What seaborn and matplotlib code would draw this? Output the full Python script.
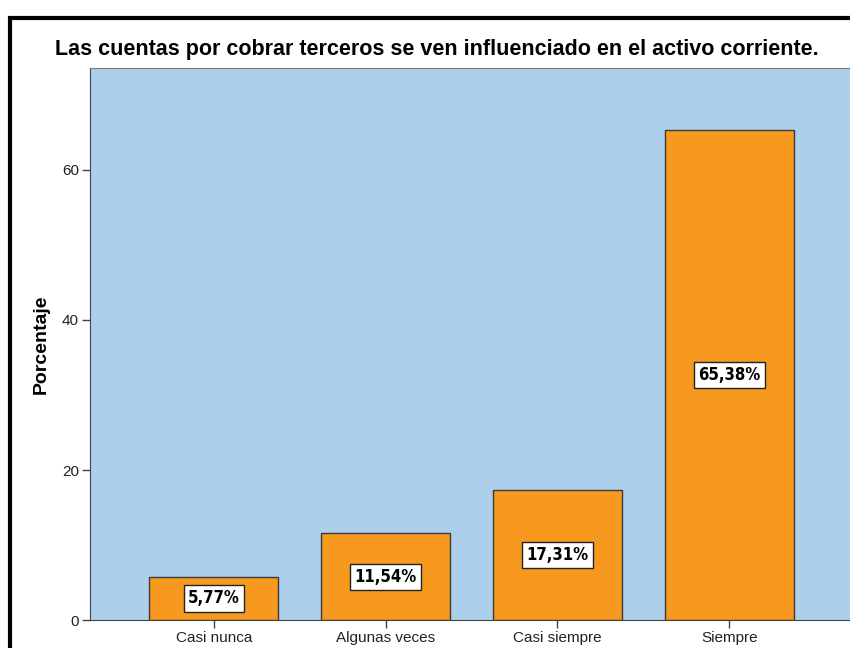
import matplotlib
matplotlib.use("Agg")
import matplotlib.pyplot as plt
import seaborn as sns
import pandas as pd
from matplotlib.patches import Rectangle

categories = ["Casi nunca", "Algunas veces", "Casi siempre", "Siempre"]
percentages = [5.77, 11.54, 17.31, 65.38]
label_texts = ["5,77%", "11,54%", "17,31%", "65,38%"]
yticks = [0, 20, 40, 60]

sns.set_theme(style="white")
plt.rcParams['font.family'] = ['Liberation Sans', 'DejaVu Sans']

df = pd.DataFrame({"cat": categories, "pct": percentages})

fig = plt.figure(figsize=(8.5, 6.48), dpi=100)
ax = fig.add_axes([90/850, 28/648, 763/850, 552/648])
ax.set_facecolor("#AECFEC")

sns.barplot(data=df, x="cat", y="pct", ax=ax, color="#F7991F", width=0.75,
            edgecolor="#3a3a3a", linewidth=1.0, saturation=1)

ax.set_xlim(-0.72, 3.72)
ax.set_ylim(0, 73.6)
ax.set_yticks(yticks)
ax.set_yticklabels([str(v) for v in yticks])

for i, (v, t) in enumerate(zip(percentages, label_texts)):
    ax.text(i, v / 2, t, ha="center", va="center", fontsize=12, fontweight="bold",
            family=['DejaVu Sans'], fontstretch="condensed", color="black",
            bbox=dict(boxstyle="square,pad=0.25", facecolor="white", edgecolor="#222222", linewidth=1.0))

ax.set_xlabel("")
ax.set_ylabel("Porcentaje", fontsize=14, fontweight="bold", labelpad=9, color="black")
ax.tick_params(axis="both", which="both", direction="out", length=6, width=1,
               color="#444444", labelsize=11, labelcolor="#222222", pad=2)
ax.tick_params(axis="x", bottom=True)
ax.tick_params(axis="y", left=True)
for s in ax.spines.values():
    s.set_color("#777777")
    s.set_linewidth(0.8)
ax.spines["left"].set_color("#444444")
ax.spines["bottom"].set_color("#444444")

fig.text(437/850, 1 - 49/648, "Las cuentas por cobrar terceros se ven influenciado en el activo corriente.",
         ha="center", va="center", fontsize=15.5, fontweight="bold", color="black")

# outer frame
fig.patches.append(Rectangle((10/850, -0.1), 1.2, 1 - 18/648 + 0.1, transform=fig.transFigure,
                             fill=False, edgecolor="black", linewidth=3, clip_on=False))

fig.savefig("out.png", dpi=100, facecolor="white")
